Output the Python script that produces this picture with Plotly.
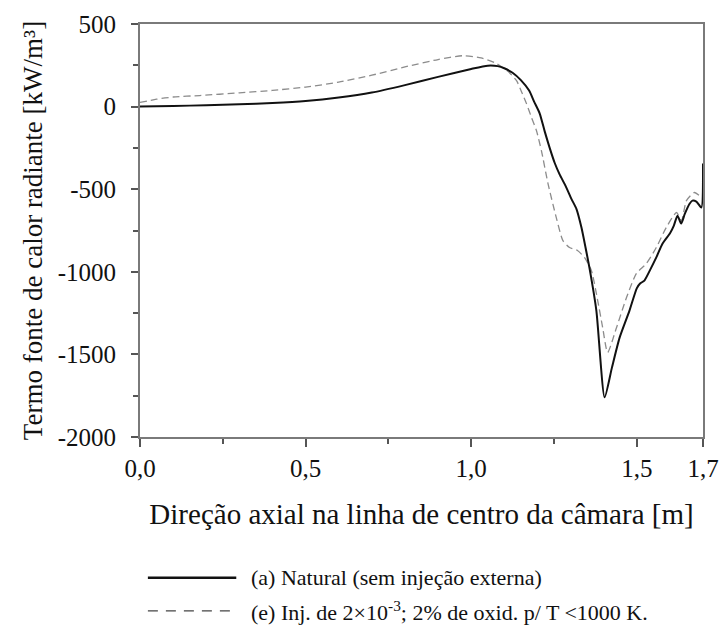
import plotly.graph_objects as go

# Axial position along the chamber centre line [m]
x_natural = [0.0, 0.1, 0.2, 0.3, 0.4, 0.5, 0.6, 0.7, 0.8, 0.9, 1.0, 1.05, 1.08, 1.1,
             1.125, 1.15, 1.175, 1.19, 1.207, 1.222, 1.237, 1.252, 1.267, 1.285, 1.303,
             1.318, 1.333, 1.345, 1.357, 1.378, 1.403, 1.425, 1.448, 1.478, 1.5, 1.51,
             1.523, 1.54, 1.559, 1.578, 1.6, 1.612, 1.623, 1.634, 1.645, 1.659, 1.668,
             1.68, 1.695, 1.7]
# Radiant heat source term [kW/m3], case (a)
y_natural = [0, 4, 8, 14, 22, 34, 55, 85, 130, 180, 228, 248, 245, 232,
             205, 160, 97, 30, -42, -150, -250, -340, -410, -480, -560,
             -620, -732, -850, -975, -1235, -1760, -1580, -1400, -1235, -1100, -1071,
             -1053, -990, -913, -829, -768, -720, -660, -708, -650, -590, -569,
             -575, -611, -345]

x_inj = [0.0, 0.05, 0.1, 0.18, 0.3, 0.4, 0.5, 0.6, 0.7, 0.8, 0.9, 0.975, 1.03, 1.077,
         1.11, 1.137, 1.152, 1.167, 1.182, 1.197, 1.212, 1.232, 1.257, 1.277, 1.297,
         1.321, 1.342, 1.363, 1.382, 1.397, 1.412, 1.439, 1.469, 1.499, 1.529, 1.559,
         1.589, 1.62, 1.635, 1.65, 1.674, 1.695]
# Radiant heat source term [kW/m3], case (e)
y_inj = [25, 45, 58, 67, 83, 98, 118, 148, 190, 240, 285, 308, 295, 260,
         215, 157, 90, 18, -65, -145, -266, -466, -672, -811, -853,
         -871, -913, -992, -1174, -1337, -1488, -1337, -1156, -1010, -950, -853,
         -732, -641, -690, -569, -520, -550]

x_tick_vals = [0.0, 0.5, 1.0, 1.5, 1.7]
x_tick_text = ["0,0", "0,5", "1,0", "1,5", "1,7"]
y_tick_vals = [500, 0, -500, -1000, -1500, -2000]
y_tick_text = ["500", "0", "-500", "-1000", "-1500", "-2000"]

label_natural = "(a) Natural (sem injeção externa)"
label_inj = "(e) Inj. de 2×10<sup>-3</sup>; 2% de oxid. p/ T <1000 K."

FONT = "Liberation Serif"
AXIS_GREY = "#7a7a7a"

fig = go.Figure()
fig.add_trace(go.Scatter(
    x=x_inj, y=y_inj, mode="lines", name=label_inj,
    line=dict(color="#8c8c8c", width=1.3, dash="7px,4px", shape="spline", smoothing=0.6),
    showlegend=False,
))
fig.add_trace(go.Scatter(
    x=x_natural, y=y_natural, mode="lines", name=label_natural,
    line=dict(color="#111111", width=2, shape="spline", smoothing=0.6),
    showlegend=False,
))

axis_common = dict(
    showgrid=False, zeroline=False,
    showline=True, linecolor=AXIS_GREY, linewidth=2, mirror=True,
    ticks="outside", tickcolor="#555555", tickwidth=1.5,
    tickfont=dict(family=FONT, size=25, color="#111111"),
)

fig.update_xaxes(
    range=[0, 1.7], tickvals=x_tick_vals, ticktext=x_tick_text, ticklen=8,
    minor=dict(tickvals=[0.25, 0.75, 1.25], ticks="outside", ticklen=5,
               tickcolor="#555555", tickwidth=1.5),
    title=dict(text="Direção axial na linha de centro da câmara [m]",
               font=dict(family=FONT, size=29, color="#111111"), standoff=23),
    **axis_common,
)
fig.update_yaxes(
    range=[-2000, 500], tickvals=y_tick_vals, ticktext=y_tick_text, ticklen=7,
    minor=dict(tickvals=[250, -250, -750, -1250, -1750], ticks="outside", ticklen=5,
               tickcolor="#555555", tickwidth=1.5),
    title=dict(text="Termo fonte de calor radiante [kW/m³]",
               font=dict(family=FONT, size=27, color="#111111"), standoff=7),
    ticklabelstandoff=10,
    **axis_common,
)

# Legend drawn below the axes: line samples plus their labels
legend_rows = [
    (label_natural, -0.341, dict(color="#111111", width=2.5)),
    (label_inj, -0.421, dict(color="#444444", width=1.2, dash="10px,8px")),
]
for text, ypos, style in legend_rows:
    fig.add_shape(type="line", xref="paper", yref="paper",
                  x0=0.014, x1=0.171, y0=ypos, y1=ypos, line=style)
    fig.add_annotation(xref="paper", yref="paper", x=0.193, y=ypos,
                       xanchor="left", yanchor="middle", showarrow=False,
                       text=text, font=dict(family=FONT, size=22, color="#111111"))

fig.update_layout(
    width=727, height=634,
    margin=dict(l=140, r=24, t=24, b=197, autoexpand=False),
    paper_bgcolor="white", plot_bgcolor="white",
    font=dict(family=FONT, color="#111111"),
)

fig.write_html("out.html")
